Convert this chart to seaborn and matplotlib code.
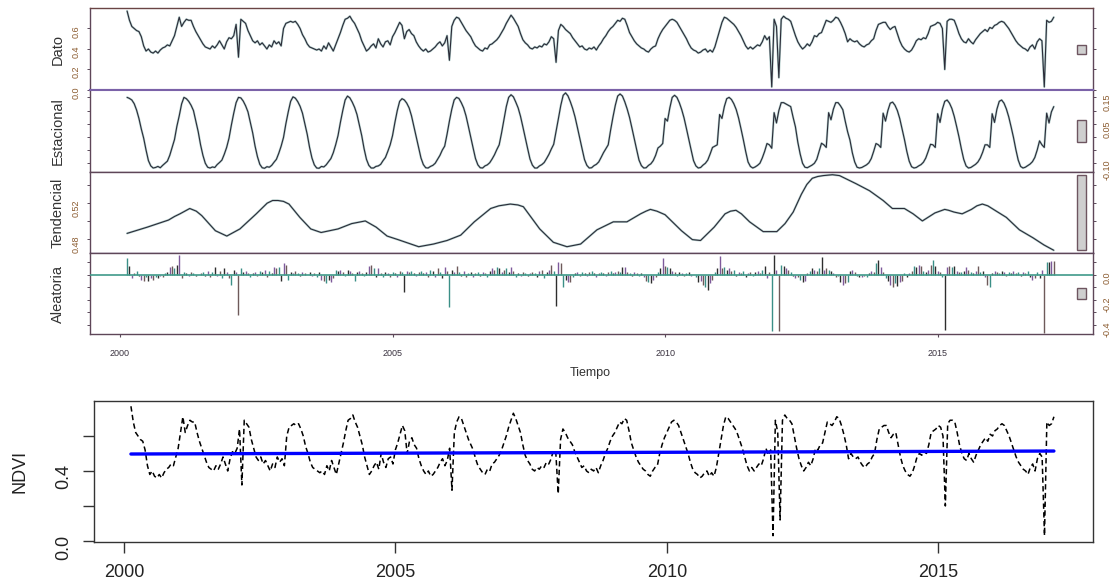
"""
Descomposicion STL de la serie NDVI (MODIS 16 dias) y serie con tendencia lineal
"""

import numpy as np
import matplotlib
matplotlib.use("Agg")
import matplotlib.pyplot as plt
import matplotlib.transforms as mtransforms
from matplotlib.patches import Rectangle
import seaborn as sns

# serie de 23 compuestos por anio, empieza en el compuesto 4 del 2000
INICIO = 2000 + 3 / 23
FREQ = 23

# NDVI observado (una fila por anio)
dato = [
    0.77, 0.68, 0.62, 0.60, 0.58, 0.57, 0.52, 0.43, 0.38, 0.40, 0.37, 0.36, 0.38, 0.36, 0.39, 0.41, 0.42, 0.44, 0.43, 0.48,
    0.53, 0.62, 0.71, 0.62, 0.66, 0.69, 0.68, 0.68, 0.62, 0.57, 0.53, 0.49, 0.45, 0.42, 0.41, 0.40, 0.43, 0.41, 0.44, 0.48, 0.44, 0.40, 0.47,
    0.51, 0.50, 0.53, 0.64, 0.32, 0.69, 0.67, 0.65, 0.58, 0.53, 0.48, 0.46, 0.48, 0.44, 0.46, 0.43, 0.40, 0.44, 0.42, 0.48, 0.45, 0.47, 0.43,
    0.60, 0.65, 0.66, 0.67, 0.66, 0.67, 0.64, 0.60, 0.54, 0.50, 0.45, 0.42, 0.41, 0.40, 0.39, 0.40, 0.38, 0.43, 0.40, 0.46, 0.42, 0.38, 0.44,
    0.50, 0.56, 0.63, 0.69, 0.70, 0.72, 0.68, 0.65, 0.60, 0.55, 0.48, 0.43, 0.38, 0.40, 0.43, 0.45, 0.41, 0.50, 0.45, 0.42, 0.47, 0.48, 0.44,
    0.52, 0.56, 0.61, 0.66, 0.63, 0.50, 0.57, 0.59, 0.55, 0.53, 0.47, 0.43, 0.40, 0.38, 0.40, 0.37, 0.38, 0.40, 0.42, 0.45, 0.47, 0.43, 0.46,
    0.53, 0.29, 0.62, 0.68, 0.71, 0.70, 0.66, 0.62, 0.58, 0.55, 0.52, 0.47, 0.43, 0.41, 0.39, 0.38, 0.41, 0.40, 0.44, 0.45, 0.47, 0.49, 0.52,
    0.56, 0.60, 0.65, 0.69, 0.73, 0.70, 0.66, 0.62, 0.55, 0.49, 0.46, 0.44, 0.41, 0.40, 0.42, 0.41, 0.43, 0.42, 0.45, 0.44, 0.47, 0.52, 0.50,
    0.27, 0.58, 0.64, 0.62, 0.59, 0.57, 0.55, 0.51, 0.48, 0.45, 0.42, 0.43, 0.40, 0.39, 0.41, 0.40, 0.42, 0.39, 0.43, 0.46, 0.50, 0.53, 0.57,
    0.60, 0.62, 0.65, 0.68, 0.67, 0.70, 0.69, 0.63, 0.56, 0.52, 0.48, 0.45, 0.43, 0.41, 0.40, 0.38, 0.37, 0.40, 0.42, 0.43, 0.50, 0.55, 0.59,
    0.62, 0.65, 0.68, 0.69, 0.68, 0.66, 0.62, 0.58, 0.54, 0.50, 0.45, 0.41, 0.39, 0.38, 0.36, 0.37, 0.39, 0.40, 0.37, 0.39, 0.37, 0.42, 0.50,
    0.58, 0.66, 0.71, 0.70, 0.68, 0.66, 0.64, 0.61, 0.57, 0.53, 0.48, 0.43, 0.40, 0.42, 0.40, 0.42, 0.44, 0.43, 0.47, 0.53, 0.49, 0.52, 0.03,
    0.69, 0.62, 0.12, 0.69, 0.72, 0.70, 0.69, 0.67, 0.60, 0.53, 0.47, 0.43, 0.40, 0.42, 0.45, 0.43, 0.47, 0.53, 0.52, 0.55, 0.56, 0.62, 0.68,
    0.67, 0.66, 0.68, 0.71, 0.70, 0.66, 0.61, 0.55, 0.47, 0.50, 0.48, 0.47, 0.48, 0.45, 0.43, 0.42, 0.44, 0.45, 0.48, 0.50, 0.58, 0.64, 0.65,
    0.66, 0.66, 0.62, 0.59, 0.61, 0.62, 0.55, 0.48, 0.43, 0.40, 0.38, 0.37, 0.39, 0.43, 0.48, 0.50, 0.49, 0.51, 0.50, 0.55, 0.62, 0.63, 0.64,
    0.66, 0.65, 0.60, 0.20, 0.67, 0.69, 0.69, 0.68, 0.62, 0.55, 0.50, 0.47, 0.46, 0.50, 0.47, 0.45, 0.49, 0.52, 0.55, 0.57, 0.59, 0.57, 0.61,
    0.60, 0.63, 0.64, 0.66, 0.67, 0.66, 0.63, 0.60, 0.56, 0.52, 0.48, 0.45, 0.43, 0.41, 0.40, 0.38, 0.42, 0.44, 0.40, 0.47, 0.50, 0.48, 0.03,
    0.68, 0.66, 0.67, 0.71,
]

# componente estacional
estacional = [
    0.150, 0.146, 0.140, 0.126, 0.102, 0.070, 0.030, -0.005, -0.050, -0.090, -0.110, -0.118, -0.116, -0.112, -0.117, -0.108, -0.100, -0.092, -0.070, -0.040,
    -0.010, 0.040, 0.080, 0.125, 0.150, 0.145, 0.135, 0.120, 0.100, 0.060, 0.020, -0.030, -0.070, -0.100, -0.115, -0.118, -0.114, -0.116, -0.105, -0.097, -0.088, -0.066, -0.040,
    -0.005, 0.045, 0.090, 0.130, 0.150, 0.148, 0.136, 0.118, 0.095, 0.055, 0.015, -0.035, -0.075, -0.104, -0.117, -0.119, -0.113, -0.115, -0.108, -0.096, -0.085, -0.062, -0.035,
    -0.002, 0.050, 0.095, 0.135, 0.152, 0.147, 0.134, 0.116, 0.090, 0.050, 0.010, -0.040, -0.080, -0.106, -0.118, -0.119, -0.112, -0.114, -0.106, -0.094, -0.082, -0.060, -0.030,
    0.005, 0.055, 0.100, 0.140, 0.155, 0.148, 0.132, 0.112, 0.085, 0.045, 0.005, -0.045, -0.085, -0.108, -0.118, -0.118, -0.112, -0.110, -0.104, -0.090, -0.078, -0.055, -0.030,
    0.005, 0.055, 0.100, 0.135, 0.145, 0.140, 0.128, 0.110, 0.080, 0.040, 0.000, -0.040, -0.080, -0.105, -0.117, -0.118, -0.112, -0.108, -0.100, -0.085, -0.070, -0.050, -0.035,
    0.010, 0.060, 0.105, 0.140, 0.150, 0.146, 0.130, 0.110, 0.080, 0.040, -0.002, -0.042, -0.082, -0.106, -0.117, -0.118, -0.110, -0.106, -0.098, -0.084, -0.068, -0.048, -0.030,
    0.015, 0.065, 0.115, 0.150, 0.160, 0.152, 0.132, 0.110, 0.078, 0.038, -0.004, -0.044, -0.084, -0.107, -0.118, -0.118, -0.110, -0.105, -0.097, -0.082, -0.066, -0.046, -0.028,
    0.020, 0.070, 0.120, 0.158, 0.167, 0.156, 0.134, 0.108, 0.076, 0.036, -0.006, -0.046, -0.086, -0.108, -0.118, -0.117, -0.109, -0.104, -0.095, -0.078, -0.060, -0.045, -0.030,
    0.025, 0.075, 0.120, 0.155, 0.163, 0.155, 0.133, 0.106, 0.074, 0.034, -0.008, -0.048, -0.088, -0.109, -0.118, -0.117, -0.108, -0.102, -0.090, -0.070, -0.042, -0.035, -0.025,
    0.070, 0.060, 0.110, 0.150, 0.158, 0.150, 0.130, 0.104, 0.072, 0.032, -0.010, -0.050, -0.090, -0.110, -0.118, -0.116, -0.107, -0.100, -0.088, -0.065, -0.040, -0.035, -0.030,
    0.085, 0.070, 0.115, 0.145, 0.150, 0.142, 0.126, 0.104, 0.072, 0.032, -0.010, -0.055, -0.095, -0.112, -0.118, -0.114, -0.108, -0.100, -0.080, -0.055, -0.025, -0.030, -0.043,
    0.092, 0.053, 0.100, 0.130, 0.130, 0.125, 0.120, 0.115, 0.075, 0.038, -0.020, -0.065, -0.100, -0.115, -0.117, -0.112, -0.107, -0.100, -0.085, -0.055, -0.024, -0.030, -0.040,
    0.092, 0.065, 0.105, 0.130, 0.130, 0.118, 0.103, 0.060, 0.020, -0.012, -0.060, -0.095, -0.115, -0.118, -0.116, -0.111, -0.106, -0.098, -0.082, -0.055, -0.025, -0.030, -0.040,
    0.090, 0.060, 0.100, 0.128, 0.132, 0.120, 0.100, 0.070, 0.030, -0.010, -0.055, -0.092, -0.113, -0.118, -0.116, -0.110, -0.105, -0.096, -0.080, -0.055, -0.028, -0.030, -0.040,
    0.088, 0.055, 0.105, 0.135, 0.140, 0.128, 0.108, 0.078, 0.040, 0.000, -0.045, -0.085, -0.110, -0.118, -0.116, -0.110, -0.104, -0.095, -0.080, -0.058, -0.030, -0.030, -0.040,
    0.088, 0.055, 0.105, 0.135, 0.140, 0.128, 0.106, 0.076, 0.038, -0.002, -0.048, -0.088, -0.112, -0.118, -0.115, -0.109, -0.103, -0.094, -0.078, -0.050, -0.015, -0.030, -0.040,
    0.090, 0.053, 0.095, 0.115,
]

# componente aleatoria (residuo)
aleatoria = [
    0.13, 0.07, -0.03, 0.01, 0.03, -0.01, -0.04, -0.05, -0.02, -0.05, -0.03, -0.04, -0.02, -0.03, -0.01, -0.02, 0.01, 0.02, 0.06, 0.07,
    0.05, 0.08, 0.16, -0.03, 0.02, 0.01, -0.01, 0.02, 0.01, -0.01, 0.00, 0.01, 0.02, -0.01, 0.03, -0.02, 0.02, 0.06, -0.01, 0.03, -0.03, 0.05, 0.02,
    -0.03, -0.08, 0.04, 0.02, -0.32, 0.05, 0.02, 0.03, 0.01, -0.02, 0.01, 0.02, -0.01, 0.03, 0.02, 0.04, -0.02, 0.03, 0.01, 0.06, 0.05, 0.06, -0.05,
    0.09, 0.08, -0.04, 0.02, 0.01, 0.03, 0.01, -0.01, 0.02, 0.01, 0.00, 0.02, -0.01, 0.01, -0.02, 0.02, -0.04, -0.05, -0.07, -0.04, -0.06, -0.03, 0.04,
    0.03, 0.04, 0.02, -0.01, 0.04, 0.03, 0.01, -0.05, 0.02, 0.03, 0.01, -0.01, 0.02, 0.07, 0.08, 0.05, -0.02, 0.05, 0.01, -0.02, 0.02, 0.01, -0.02,
    0.02, 0.01, -0.02, 0.03, 0.02, -0.14, 0.03, 0.02, 0.03, 0.01, -0.01, 0.02, 0.03, 0.01, 0.02, -0.02, 0.04, 0.03, -0.02, 0.05, 0.02, -0.03, 0.06,
    0.03, -0.26, 0.04, 0.02, 0.07, 0.02, -0.01, 0.03, -0.02, 0.01, 0.02, -0.02, 0.01, 0.02, -0.01, 0.02, 0.01, -0.02, 0.03, 0.05, 0.04, 0.06, 0.05,
    0.02, 0.04, 0.05, 0.02, 0.06, 0.03, -0.02, 0.01, -0.01, 0.02, 0.01, -0.01, 0.01, 0.02, 0.01, -0.02, 0.03, 0.04, -0.03, 0.02, 0.04, 0.08, 0.03,
    -0.25, 0.10, 0.09, -0.10, -0.04, -0.06, -0.06, -0.02, 0.01, 0.02, -0.01, 0.02, 0.01, -0.01, 0.02, 0.03, 0.01, -0.02, 0.01, 0.02, 0.01, -0.01, 0.02,
    0.03, 0.01, 0.02, 0.03, 0.02, 0.06, 0.06, 0.02, 0.01, -0.01, 0.02, 0.01, -0.01, 0.01, -0.02, -0.05, -0.06, -0.07, -0.04, -0.02, 0.02, 0.05, 0.13,
    0.07, 0.06, 0.05, 0.03, 0.02, -0.01, 0.02, 0.01, -0.01, 0.01, 0.02, -0.01, 0.00, -0.02, -0.06, -0.05, -0.08, -0.10, -0.12, -0.07, -0.04, 0.02, 0.05,
    0.15, 0.05, 0.06, 0.04, 0.05, 0.03, 0.04, -0.01, 0.02, 0.01, 0.03, -0.02, 0.01, 0.02, -0.01, 0.02, 0.03, 0.01, 0.04, 0.07, -0.03, 0.02, -0.45,
    0.16, 0.04, -0.45, 0.08, 0.07, 0.05, 0.04, 0.02, -0.01, -0.03, -0.02, -0.04, -0.06, -0.05, 0.01, 0.03, 0.05, 0.04, 0.03, 0.05, 0.14, 0.04, 0.05,
    0.04, 0.03, 0.01, -0.02, -0.01, -0.06, -0.08, -0.07, -0.06, 0.03, 0.04, 0.02, -0.01, -0.02, -0.02, -0.01, -0.02, 0.01, 0.03, 0.02, 0.09, 0.12, 0.06,
    0.02, -0.03, -0.05, -0.08, -0.10, -0.07, -0.09, -0.06, -0.05, 0.01, -0.02, 0.01, 0.03, 0.07, 0.06, 0.08, 0.07, 0.03, 0.02, 0.04, 0.08, 0.12, 0.07,
    0.03, 0.02, -0.02, -0.44, 0.06, 0.07, 0.06, 0.07, 0.03, 0.02, 0.02, 0.03, 0.06, 0.04, 0.02, 0.01, 0.03, 0.07, 0.02, 0.03, -0.02, -0.08, -0.10,
    0.01, 0.03, 0.02, 0.01, 0.03, 0.02, -0.01, 0.02, 0.01, 0.03, 0.01, 0.02, -0.01, 0.02, 0.01, 0.03, -0.02, -0.04, -0.03, 0.02, -0.03, 0.04, -0.47,
    0.10, 0.10, 0.11, 0.11,
]

tend_t = [2000.13, 2000.5, 2000.89, 2001.0, 2001.1, 2001.28, 2001.4, 2001.5, 2001.75, 2001.96,
          2002.2, 2002.5, 2002.7, 2002.8, 2002.9, 2003.0, 2003.1, 2003.3, 2003.5, 2003.69,
          2004.0, 2004.25, 2004.5, 2004.7, 2004.9, 2005.1, 2005.48, 2005.75, 2006.0, 2006.25,
          2006.5, 2006.8, 2006.95, 2007.16, 2007.3, 2007.4, 2007.7, 2007.95, 2008.2, 2008.45,
          2008.75, 2009.05, 2009.3, 2009.55, 2009.65, 2009.73, 2009.85, 2010.0, 2010.3, 2010.5,
          2010.65, 2010.9, 2011.1, 2011.2, 2011.3, 2011.4, 2011.55, 2011.8, 2012.05, 2012.2,
          2012.35, 2012.5, 2012.6, 2012.7, 2012.8, 2012.9, 2013.07, 2013.2, 2013.3, 2013.5,
          2013.75, 2014.0, 2014.17, 2014.39, 2014.55, 2014.72, 2014.95, 2015.13, 2015.2, 2015.3,
          2015.45, 2015.62, 2015.72, 2015.82, 2015.92, 2016.05, 2016.26, 2016.5, 2016.75, 2016.95,
          2017.13]
tend_v = [0.486, 0.493, 0.501, 0.505, 0.508, 0.514, 0.511, 0.506, 0.489, 0.483,
          0.491, 0.508, 0.520, 0.523, 0.523, 0.522, 0.519, 0.504, 0.491, 0.487,
          0.491, 0.497, 0.500, 0.493, 0.483, 0.479, 0.471, 0.474, 0.478, 0.484,
          0.499, 0.514, 0.517, 0.519, 0.518, 0.516, 0.491, 0.476, 0.471, 0.474,
          0.490, 0.499, 0.499, 0.508, 0.511, 0.513, 0.511, 0.507, 0.489, 0.479,
          0.478, 0.493, 0.508, 0.511, 0.512, 0.508, 0.499, 0.488, 0.488, 0.497,
          0.510, 0.530, 0.541, 0.548, 0.550, 0.551, 0.552, 0.551, 0.548, 0.542,
          0.534, 0.523, 0.514, 0.514, 0.508, 0.500, 0.509, 0.513, 0.512, 0.510,
          0.508, 0.513, 0.517, 0.519, 0.517, 0.512, 0.504, 0.490, 0.481, 0.473,
          0.467]

# ajuste lineal del NDVI (grafico inferior)
ajuste_t = [2000.13, 2017.13]
ajuste_v = [0.497, 0.514]

anios = [2000, 2005, 2010, 2015]

W, H = 1115, 588
XLIM = (1999.45, 2017.85)
COL_LINEA = '#2b2b38'
COL_TICK = '#8a5a2e'


def tiempo(serie):
    return INICIO + np.arange(len(serie)) / FREQ


def linea_stl(ax, x, y):
    # linea oscura con un halo verdoso, como la salida de R
    sns.lineplot(x=x, y=y, ax=ax, color='#5f9a94', linewidth=1.6, alpha=0.45,
                 estimator=None, errorbar=None)
    sns.lineplot(x=x, y=y, ax=ax, color=COL_LINEA, linewidth=0.8,
                 estimator=None, errorbar=None)


def barra_rango(ax, alto):
    lo, hi = ax.get_ylim()
    c = (lo + hi) / 2
    trans = mtransforms.blended_transform_factory(ax.transAxes, ax.transData)
    ax.add_patch(Rectangle((0.984, c - alto / 2), 0.009, alto, transform=trans,
                           facecolor='#cfcfcf', edgecolor='#6e5560', linewidth=1.0,
                           clip_on=False, zorder=5))


def plot_stl(fig):
    bordes = [8.3, 90, 171.7, 253.3, 334.3]
    left, right = 90 / W, 1093 / W
    nombres = ['Dato', 'Estacional', 'Tendencial', 'Aleatoria']
    axes = []
    for i in range(4):
        y0 = 1 - bordes[i + 1] / H
        h = (bordes[i + 1] - bordes[i]) / H
        ax = fig.add_axes([left, y0, right - left, h])
        ax.set_facecolor('white')
        axes.append(ax)

    ax_d, ax_e, ax_t, ax_a = axes
    t = tiempo(dato)

    linea_stl(ax_d, t, dato)
    ax_d.set_ylim(0.0, 0.797)
    ax_d.set_yticks([0.0, 0.2, 0.4, 0.6])
    ax_d.set_yticklabels(['0.0', '0.2', '0.4', '0.6'])

    linea_stl(ax_e, tiempo(estacional), estacional)
    ax_e.set_ylim(-0.132, 0.178)
    ax_e.set_yticks([-0.10, -0.05, 0.0, 0.05, 0.10, 0.15])
    ax_e.set_yticklabels(['-0.10', '', '', '0.05', '', '0.15'])

    linea_stl(ax_t, tend_t, tend_v)
    ax_t.set_ylim(0.4636, 0.5554)
    ax_t.set_yticks([0.48, 0.50, 0.52, 0.54])
    ax_t.set_yticklabels(['0.48', '', '0.52', ''])

    ta = tiempo(aleatoria)
    colores = ['#3b8f87', '#2e2e2e', '#7e5a9b', '#6e5a5a']
    ax_a.vlines(ta, 0, aleatoria, colors=[colores[i % 4] for i in range(len(ta))],
                linewidth=1.0)
    ax_a.axhline(0, color='#3f9a8a', linewidth=1.2, zorder=3)
    ax_a.set_ylim(-0.478, 0.17)
    ax_a.set_yticks([-0.4, -0.3, -0.2, -0.1, 0.0, 0.1])
    ax_a.set_yticklabels(['-0.4', '', '-0.2', '', '0.0', ''])

    rango = max(tend_v) - min(tend_v)
    for i, ax in enumerate(axes):
        ax.set_xlim(*XLIM)
        ax.set_xticks(anios)
        ax.set_xlabel('')
        ax.set_ylabel(nombres[i], fontsize=10.5, color='#333333')
        ax.yaxis.set_label_coords(-0.025, 0.5)
        izquierda = i % 2 == 0
        ax.tick_params(axis='y', left=True, right=True, labelleft=izquierda,
                       labelright=not izquierda, direction='out', length=2.5,
                       width=0.7, color='#5a4a5a', pad=4.5, labelsize=6.5,
                       labelcolor=COL_TICK, labelrotation=90)
        ax.tick_params(axis='x', bottom=True, direction='out', length=2.5, width=0.8,
                       color='#5a4a5a', labelbottom=(i == 3), pad=8, labelsize=6.5,
                       labelcolor='#3a3340')
        for lado in ['left', 'right', 'top', 'bottom']:
            ax.spines[lado].set_color('#5e4658')
            ax.spines[lado].set_linewidth(1.0)
        barra_rango(ax, rango)

    ax_d.spines['bottom'].set_color('#7b62a8')
    ax_d.spines['bottom'].set_linewidth(1.5)
    ax_e.spines['top'].set_color('#7b62a8')
    ax_e.spines['top'].set_linewidth(1.5)
    ax_d.spines['top'].set_color('#6a4444')
    ax_t.spines['bottom'].set_color('#4a3060')

    fig.text(590 / W, 1 - 373 / H, 'Tiempo', ha='center', va='center',
             fontsize=9, color='#333333')


def plot_ndvi(fig):
    ax = fig.add_axes([94 / W, 1 - 542 / H, (1093 - 94) / W, (542 - 401) / H])
    ax.set_facecolor('white')
    sns.lineplot(x=tiempo(dato), y=dato, ax=ax, color='black', linewidth=1.1,
                 estimator=None, errorbar=None)
    ax.lines[-1].set_dashes([3.5, 2.2])
    sns.lineplot(x=ajuste_t, y=ajuste_v, ax=ax, color='#0000ff', linewidth=2.4,
                 estimator=None, errorbar=None)

    ax.set_xlim(*XLIM)
    ax.set_ylim(-0.006, 0.80)
    ax.set_xticks(anios)
    ax.set_xticklabels([str(a) for a in anios])
    ax.set_yticks([0.0, 0.2, 0.4, 0.6])
    ax.set_yticklabels(['0.0', '', '0.4', ''])
    ax.set_xlabel('')
    ax.set_ylabel('NDVI', fontsize=13, color='#222222')
    ax.yaxis.set_label_coords(-0.066, 0.5)
    ax.tick_params(axis='both', direction='out', length=8, width=1.0,
                   color='#333333', labelsize=13, labelcolor='#222222', pad=8)
    ax.tick_params(axis='x', bottom=True)
    ax.tick_params(axis='y', left=True, labelrotation=90)
    for lado in ['left', 'right', 'top', 'bottom']:
        ax.spines[lado].set_color('#333333')
        ax.spines[lado].set_linewidth(1.0)


def main():
    sns.set_theme(style="white")
    plt.rcParams['font.family'] = ['Liberation Sans', 'DejaVu Sans']
    fig = plt.figure(figsize=(W / 100, H / 100), dpi=100)
    plot_stl(fig)
    plot_ndvi(fig)
    fig.savefig('out.png', dpi=100, facecolor='white')
    plt.close(fig)


if __name__ == "__main__":
    main()
